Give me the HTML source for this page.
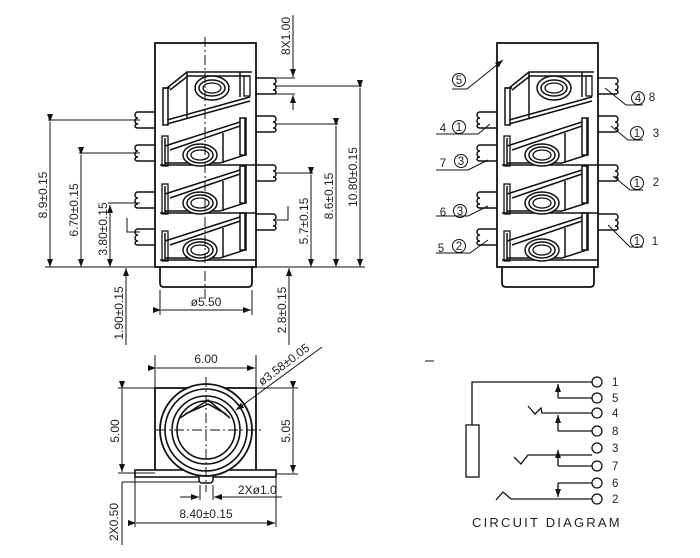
<!DOCTYPE html>
<html><head><meta charset="utf-8"><style>
html,body{margin:0;padding:0;background:#fff;}
svg{display:block;}
text{font-family:"Liberation Sans","DejaVu Sans",sans-serif;fill:#222;}
</style></head><body>
<svg width="700" height="558" viewBox="0 0 700 558" xmlns="http://www.w3.org/2000/svg">
<defs>
<marker id="a" markerWidth="8" markerHeight="6" refX="8" refY="3" orient="auto" markerUnits="userSpaceOnUse"><path d="M0,0 L8,3 L0,6 z" fill="#111"/></marker>
<g id="blk">
 <path d="M245,0 V37 L220,45 H165 M165,28 L240,4 M170,32 L240,8 M223,15 V45 M165,20 V47 M160,47 H256" fill="none" stroke="#111" stroke-width="1.5"/>
 <rect x="240" y="0" width="6" height="37" fill="none" stroke="#111" stroke-width="1.5"/>
 <rect x="162" y="18" width="6" height="30" fill="none" stroke="#111" stroke-width="1.3"/>
 <ellipse cx="200" cy="37" rx="17" ry="11" fill="#fff" stroke="#111" stroke-width="1.5"/>
 <ellipse cx="200" cy="37" rx="13" ry="8" fill="none" stroke="#111" stroke-width="1.5"/>
 <ellipse cx="200" cy="37" rx="9" ry="5" fill="none" stroke="#111" stroke-width="1.3"/>
</g>
<g id="top">
 <path d="M167,88 L187,72 H252 M170,90 L188,76 H250 M167,120 L250,97 M167,124 L250,101 M187,72 V118 M163,88 H170 M240,72 V97" fill="none" stroke="#111" stroke-width="1.5"/>
 <rect x="163" y="88" width="5" height="37" fill="none" stroke="#111" stroke-width="1.5"/>
 <rect x="244" y="76" width="6" height="20" fill="none" stroke="#111" stroke-width="1.3"/>
 <ellipse cx="212" cy="88" rx="17" ry="12" fill="#fff" stroke="#111" stroke-width="1.5"/>
 <ellipse cx="212" cy="88" rx="13" ry="8" fill="none" stroke="#111" stroke-width="1.5"/>
 <ellipse cx="212" cy="88" rx="9" ry="5" fill="none" stroke="#111" stroke-width="1.3"/>
</g>
<path id="pl" d="M0,-8 H-17 c-4,0 -4,6 0,6 c-4,0 -4,6 0,6 c-4,0 -4,4 0,4 H0" fill="none" stroke="#111" stroke-width="1.5"/>
<path id="pr" d="M0,-8 H17 c4,0 4,6 0,6 c4,0 4,6 0,6 c4,0 4,4 0,4 H0" fill="none" stroke="#111" stroke-width="1.5"/>
<g id="view">
 <rect x="155" y="43" width="101" height="224" fill="#fff" stroke="#111" stroke-width="1.8"/>
 <path d="M160,267 V283 q0,4 4,4 H248 q4,0 4,-4 V267" fill="none" stroke="#111" stroke-width="1.8"/>
 <use href="#top"/>
 <use href="#blk" transform="translate(0,118)"/>
 <use href="#blk" transform="translate(0,166)"/>
 <use href="#blk" transform="translate(0,213)"/>
 <use href="#pl" transform="translate(155,120)"/>
 <use href="#pl" transform="translate(155,153)"/>
 <use href="#pl" transform="translate(155,200)"/>
 <use href="#pl" transform="translate(155,237)"/>
 <use href="#pr" transform="translate(256,86)"/>
 <use href="#pr" transform="translate(256,124)"/>
 <use href="#pr" transform="translate(256,173)"/>
 <use href="#pr" transform="translate(256,222)"/>
</g>
</defs>

<use href="#view"/>
<line x1="205" y1="37" x2="205" y2="300" stroke="#111" stroke-width="1" stroke-dasharray="10,3,2,3"/>
<g stroke="#111" stroke-width="1" fill="none">
 <line x1="45" y1="267" x2="365" y2="267"/>
 <line x1="48" y1="120" x2="140" y2="120"/>
 <line x1="50" y1="122" x2="50" y2="267" marker-start="url(#a)" marker-end="url(#a)"/>
 <line x1="79" y1="153" x2="140" y2="153"/>
 <line x1="81" y1="155" x2="81" y2="267" marker-start="url(#a)" marker-end="url(#a)"/>
 <line x1="108" y1="203" x2="140" y2="203"/>
 <line x1="110" y1="205" x2="110" y2="267" marker-end="url(#a)"/>
 <line x1="110" y1="240" x2="110" y2="205" marker-end="url(#a)"/>
 <path d="M127,218 V232 H140"/>
 <line x1="126" y1="345" x2="126" y2="268" marker-end="url(#a)"/>
 <line x1="289" y1="345" x2="289" y2="268" marker-end="url(#a)"/>
 <line x1="160" y1="290" x2="160" y2="315"/>
 <line x1="252" y1="290" x2="252" y2="315"/>
 <line x1="161" y1="310" x2="251" y2="310" marker-start="url(#a)" marker-end="url(#a)"/>
 <line x1="270" y1="78" x2="295" y2="78"/>
 <line x1="270" y1="94" x2="295" y2="94"/>
 <line x1="293" y1="15" x2="293" y2="77" marker-end="url(#a)"/>
 <line x1="293" y1="110" x2="293" y2="95" marker-end="url(#a)"/>
 <line x1="276" y1="86" x2="362" y2="86"/>
 <line x1="360" y1="88" x2="360" y2="267" marker-start="url(#a)" marker-end="url(#a)"/>
 <line x1="276" y1="124" x2="338" y2="124"/>
 <line x1="336" y1="126" x2="336" y2="267" marker-start="url(#a)" marker-end="url(#a)"/>
 <line x1="276" y1="173" x2="313" y2="173"/>
 <line x1="311" y1="175" x2="311" y2="267" marker-start="url(#a)" marker-end="url(#a)"/>
 <path d="M276,220 H288 V206"/>
</g>
<g font-size="12">
 <text transform="translate(47,195) rotate(-90)" text-anchor="middle">8.9±0.15</text>
 <text transform="translate(78,210) rotate(-90)" text-anchor="middle">6.70±0.15</text>
 <text transform="translate(107,229) rotate(-90)" text-anchor="middle">3.80±0.15</text>
 <text transform="translate(123,313) rotate(-90)" text-anchor="middle">1.90±0.15</text>
 <text transform="translate(286,310) rotate(-90)" text-anchor="middle">2.8±0.15</text>
 <text transform="translate(290,36) rotate(-90)" text-anchor="middle">8X1.00</text>
 <text transform="translate(357,177) rotate(-90)" text-anchor="middle">10.80±0.15</text>
 <text transform="translate(333,196) rotate(-90)" text-anchor="middle">8.6±0.15</text>
 <text transform="translate(308,221) rotate(-90)" text-anchor="middle">5.7±0.15</text>
 <text x="206" y="306" text-anchor="middle">ø5.50</text>
</g>

<use href="#view" transform="translate(342,0)"/>
<g stroke="#111" stroke-width="1" fill="none">
 <path d="M452,89 H467 L503,60" marker-end="url(#a)"/>
 <path d="M436,134 H478 L490,124"/>
 <path d="M436,170 H468 L488,160"/>
 <path d="M436,216 H468 L488,206"/>
 <path d="M436,253 H470 L488,240"/>
 <path d="M643,105 H626 L605,88"/>
 <path d="M643,140 H628 L611,126"/>
 <path d="M643,190 H630 L613,176"/>
 <path d="M643,247 H630 L608,225"/>
 <circle cx="459" cy="80" r="6.5"/>
 <circle cx="459" cy="127" r="6.5"/>
 <circle cx="461" cy="161" r="6.5"/>
 <circle cx="460" cy="211" r="6.5"/>
 <circle cx="459" cy="246" r="6.5"/>
 <circle cx="638" cy="98" r="6.5"/>
 <circle cx="637" cy="133" r="6.5"/>
 <circle cx="637" cy="183" r="6.5"/>
 <circle cx="637" cy="241" r="6.5"/>
</g>
<g font-size="11.5" text-anchor="middle">
 <text x="459" y="84">5</text>
 <text x="459" y="131">1</text><text x="443" y="132">4</text>
 <text x="461" y="165">3</text><text x="443" y="167">7</text>
 <text x="460" y="215">3</text><text x="443" y="216">6</text>
 <text x="459" y="250">2</text><text x="441" y="252">5</text>
 <text x="638" y="102">4</text><text x="652" y="101">8</text>
 <text x="637" y="137">1</text><text x="656" y="137">3</text>
 <text x="637" y="187">1</text><text x="656" y="186">2</text>
 <text x="637" y="245">1</text><text x="655" y="245">1</text>
</g>

<g stroke="#111" fill="none">
 <rect x="155" y="388" width="101" height="84" stroke-width="1.8" fill="#fff"/>
 <rect x="135" y="470" width="141" height="7" stroke-width="1.6" fill="#fff"/>
 <rect x="199" y="473" width="14" height="10" rx="3" stroke-width="1.5" fill="#fff"/>
 <circle cx="206" cy="430" r="46" stroke-width="1.8" fill="#fff"/>
 <circle cx="206" cy="430" r="41" stroke-width="1.6"/>
 <circle cx="206" cy="430" r="34" stroke-width="1.6"/>
 <circle cx="206" cy="430" r="29" stroke-width="1.6"/>
 <path d="M180,418 L208,400 L230,418 M185,414 L208,404 L226,414" stroke-width="1.5"/>
 <line x1="156" y1="430" x2="262" y2="430" stroke-width="1" stroke-dasharray="10,3,2,3"/>
 <line x1="206" y1="377" x2="206" y2="492" stroke-width="1" stroke-dasharray="10,3,2,3"/>
 <g stroke-width="1">
  <line x1="155" y1="355" x2="155" y2="388"/>
  <line x1="256" y1="355" x2="256" y2="388"/>
  <line x1="156" y1="368" x2="255" y2="368" marker-start="url(#a)" marker-end="url(#a)"/>
  <line x1="118" y1="388" x2="155" y2="388"/>
  <line x1="118" y1="473" x2="155" y2="473"/>
  <line x1="122" y1="389" x2="122" y2="472" marker-start="url(#a)" marker-end="url(#a)"/>
  <line x1="256" y1="388" x2="298" y2="388"/>
  <line x1="276" y1="474" x2="298" y2="474"/>
  <line x1="293" y1="389" x2="293" y2="473" marker-start="url(#a)" marker-end="url(#a)"/>
  <line x1="135" y1="477" x2="135" y2="527"/>
  <line x1="276" y1="477" x2="276" y2="527"/>
  <line x1="136" y1="523" x2="275" y2="523" marker-start="url(#a)" marker-end="url(#a)"/>
  <line x1="122" y1="482" x2="200" y2="482"/>
  <line x1="122" y1="482" x2="122" y2="545"/>
  <line x1="200" y1="485" x2="200" y2="500"/>
  <line x1="213" y1="485" x2="213" y2="500"/>
  <line x1="180" y1="497" x2="199" y2="497" marker-end="url(#a)"/>
  <line x1="282" y1="497" x2="214" y2="497" marker-end="url(#a)"/>
  <line x1="322" y1="347" x2="236" y2="410" marker-end="url(#a)"/>
 </g>
</g>
<g font-size="12">
 <text x="206" y="363" text-anchor="middle">6.00</text>
 <text transform="translate(119,431) rotate(-90)" text-anchor="middle">5.00</text>
 <text transform="translate(290,431) rotate(-90)" text-anchor="middle">5.05</text>
 <text x="206" y="518" text-anchor="middle">8.40±0.15</text>
 <text x="238" y="494">2Xø1.0</text>
 <text transform="translate(118,522) rotate(-90)" text-anchor="middle">2X0.50</text>
 <text transform="translate(262,386) rotate(-37)">ø3.58±0.05</text>
</g>

<line x1="425" y1="361" x2="434" y2="361" stroke="#111" stroke-width="1"/>
<g stroke="#111" stroke-width="1.3" fill="none">
 <path d="M472,425 V382 H592"/>
 <rect x="466" y="425" width="13" height="52"/>
 <path d="M558,398 H592"/>
 <line x1="558" y1="398" x2="558" y2="384" marker-end="url(#a)"/>
 <path d="M528,406 L535,414 L541,408 L542,413 H592"/>
 <path d="M558,431 H592"/>
 <line x1="558" y1="431" x2="558" y2="415" marker-end="url(#a)"/>
 <path d="M514,457 L521,464 L528,455 H592"/>
 <path d="M558,466 H592"/>
 <line x1="558" y1="466" x2="558" y2="450" marker-end="url(#a)"/>
 <path d="M496,500 L503,492 L511,499 H592"/>
 <path d="M558,483 H592"/>
 <line x1="558" y1="483" x2="558" y2="497" marker-end="url(#a)"/>
 <circle cx="597" cy="382" r="5"/><circle cx="597" cy="398" r="5"/>
 <circle cx="597" cy="413" r="5"/><circle cx="597" cy="431" r="5"/>
 <circle cx="597" cy="448" r="5"/><circle cx="597" cy="466" r="5"/>
 <circle cx="597" cy="483" r="5"/><circle cx="597" cy="499" r="5"/>
</g>
<g font-size="11.5">
 <text x="612" y="386">1</text><text x="612" y="402">5</text>
 <text x="612" y="417">4</text><text x="612" y="435">8</text>
 <text x="612" y="452">3</text><text x="612" y="470">7</text>
 <text x="612" y="487">6</text><text x="612" y="503">2</text>
 <text x="472" y="527" font-size="13" letter-spacing="2.2">CIRCUIT  DIAGRAM</text>
</g>
</svg>
</body></html>
